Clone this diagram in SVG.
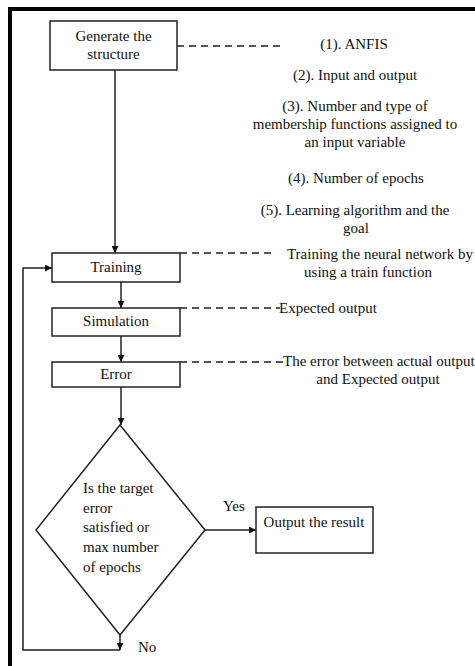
<svg xmlns="http://www.w3.org/2000/svg" width="475" height="666" viewBox="0 0 475 666" font-family="'Liberation Serif', 'DejaVu Serif', serif">
<defs>
<style>
text{font-family:'Liberation Serif','DejaVu Serif',serif;font-size:15px;fill:#111}
.box{fill:#fff;stroke:#222;stroke-width:1.5}
.ln{fill:none;stroke:#222;stroke-width:1.5}
.dash{fill:none;stroke:#222;stroke-width:1.5;stroke-dasharray:7 5}
.c{text-anchor:middle}
</style>
<marker id="ah" viewBox="0 0 10 10" refX="10" refY="5" markerWidth="7" markerHeight="7" markerUnits="userSpaceOnUse" orient="auto">
<path d="M0,0 L10,5 L0,10 z" fill="#111"/>
</marker>
</defs>
<rect x="0" y="0" width="475" height="666" fill="#fff"/>
<path d="M10,666 L10,9 L475,9" fill="none" stroke="#000" stroke-width="4"/>

<g id="connectors">
<line class="ln" x1="115" y1="70" x2="115" y2="253" marker-end="url(#ah)"/>
<line class="ln" x1="121" y1="282" x2="121" y2="308" marker-end="url(#ah)"/>
<line class="ln" x1="121" y1="336" x2="121" y2="362" marker-end="url(#ah)"/>
<line class="ln" x1="121" y1="387" x2="121" y2="425" marker-end="url(#ah)"/>
<line class="ln" x1="205" y1="530" x2="256" y2="530" marker-end="url(#ah)"/>
<line class="ln" x1="120" y1="635" x2="120" y2="650" marker-end="url(#ah)"/>
<path class="ln" d="M120,650 L23,650 L23,268 L52,268" marker-end="url(#ah)"/>
<line class="dash" x1="177" y1="46" x2="285" y2="46"/>
<line class="dash" x1="180" y1="253" x2="275" y2="253"/>
<line class="dash" x1="180" y1="308" x2="280" y2="308"/>
<line class="dash" x1="180" y1="362" x2="286" y2="362"/>
<text x="223" y="511">Yes</text>
<text x="138" y="652">No</text>
</g>

<g id="generate">
<rect class="box" x="50" y="21" width="127" height="49"/>
<text class="c" x="113.5" y="41">Generate the</text>
<text class="c" x="113.5" y="59">structure</text>
</g>

<g id="notes-structure">
<text class="c" x="354" y="49">(1). ANFIS</text>
<text class="c" x="355" y="80">(2). Input and output</text>
<text class="c" x="355" y="111">(3). Number and type of</text>
<text class="c" x="355" y="129">membership functions assigned to</text>
<text class="c" x="355" y="147">an input variable</text>
<text class="c" x="356" y="183">(4). Number of epochs</text>
<text class="c" x="355" y="215">(5). Learning algorithm and the</text>
<text class="c" x="356" y="233">goal</text>
</g>

<g id="training">
<rect class="box" x="52" y="253" width="128" height="29"/>
<text class="c" x="116" y="272">Training</text>
</g>
<g id="note-training">
<text class="c" x="380" y="259">Training the neural network by</text>
<text class="c" x="368" y="277">using a train function</text>
</g>

<g id="simulation">
<rect class="box" x="52" y="308" width="128" height="28"/>
<text class="c" x="116" y="326">Simulation</text>
</g>
<g id="note-simulation">
<text x="279" y="313">Expected output</text>
</g>

<g id="error">
<rect class="box" x="52" y="362" width="128" height="25"/>
<text class="c" x="116" y="379">Error</text>
</g>
<g id="note-error">
<text x="283" y="366">The error between actual output</text>
<text class="c" x="378" y="384">and Expected output</text>
</g>

<g id="decision">
<polygon class="box" points="120,425 205,530 120,635 36,530"/>
<text x="83" y="493">Is the target</text>
<text x="83" y="513">error</text>
<text x="83" y="532">satisfied or</text>
<text x="83" y="552">max number</text>
<text x="83" y="572">of epochs</text>
</g>

<g id="output">
<rect class="box" x="256" y="507" width="117" height="46"/>
<text class="c" x="314" y="527">Output the result</text>
</g>
</svg>
